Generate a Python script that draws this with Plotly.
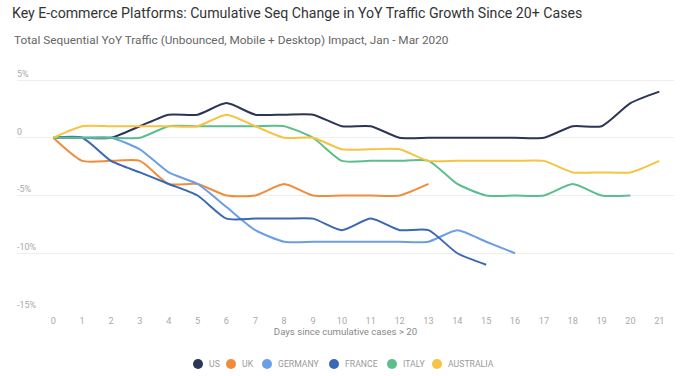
import plotly.graph_objects as go

# ---- data ----
days = list(range(22))
series_names = ["US", "UK", "GERMANY", "FRANCE", "ITALY", "AUSTRALIA"]
us = [0, 0, 0, 1, 2, 2, 3, 2, 2, 2, 1, 1, 0, 0, 0, 0, 0, 0, 1, 1, 3, 4]
uk = [0, -2, -2, -2, -4, -4, -5, -5, -4, -5, -5, -5, -5, -4]
germany = [0, 0, 0, -1, -3, -4, -6, -8, -9, -9, -9, -9, -9, -9, -8, -9, -10]
france = [0, 0, -2, -3, -4, -5, -7, -7, -7, -7, -8, -7, -8, -8, -10, -11]
italy = [0, 0, 0, 0, 1, 1, 1, 1, 1, 0, -2, -2, -2, -2, -4, -5, -5, -5, -4, -5, -5]
australia = [0, 1, 1, 1, 1, 1, 2, 1, 0, 0, -1, -1, -1, -2, -2, -2, -2, -2, -3, -3, -3, -2]
y_tick_vals = [5, 0, -5, -10, -15]
y_tick_text = ["5%", "0", "-5%", "-10%", "-15%"]

# ---- styles ----
colors = ["#2b3556", "#f08c3a", "#6c9ee8", "#3b68b5", "#5bbf8d", "#f6c343"]
legend_centers_px = [198, 231, 267, 334, 392, 437]
FONT = "Roboto"

values = [us, uk, germany, france, italy, australia]

W, H = 700, 376
L, R, T, B = 17, 26, 62, 65
pw, ph = W - L - R, H - T - B

fig = go.Figure()
for name, vals, col in zip(series_names, values, colors):
    fig.add_trace(go.Scatter(
        x=days[:len(vals)], y=vals, name=name, mode="lines",
        line=dict(color=col, width=2, shape="spline", smoothing=0.6),
        showlegend=False, hoverinfo="skip",
    ))

# manual legend (circle + label)
legend_y_px = 364
ly = (H - B - legend_y_px) / ph
for name, col, cx in zip(series_names, colors, legend_centers_px):
    lx = (cx - L) / pw
    fig.add_shape(type="circle", xref="paper", yref="paper",
                  xsizemode="pixel", ysizemode="pixel",
                  xanchor=lx, yanchor=ly, x0=-5, x1=5, y0=-5, y1=5,
                  fillcolor=col, line=dict(width=0))
    fig.add_annotation(text=name, xref="paper", yref="paper",
                       x=(cx + 9 - L) / pw, y=ly, xanchor="left", yanchor="middle",
                       showarrow=False, font=dict(family=FONT, size=8.7, color="#9a9a9a"))

fig.add_annotation(text="Total Sequential YoY Traffic (Unbounced, Mobile + Desktop) Impact, Jan - Mar 2020",
                   xref="paper", yref="paper", x=(12 - L) / pw, y=(H - B - 40) / ph,
                   xanchor="left", yanchor="middle", showarrow=False,
                   font=dict(family=FONT, size=11.8, color="#666666"))

fig.update_layout(
    width=W, height=H,
    margin=dict(l=L, r=R, t=T, b=B),
    paper_bgcolor="white", plot_bgcolor="white",
    title=dict(text="Key E-commerce Platforms: Cumulative Seq Change in YoY Traffic Growth Since 20+ Cases",
               xref="container", yref="container", x=12 / W, y=1 - 13 / H,
               xanchor="left", yanchor="middle",
               font=dict(family=FONT, size=14.15, color="#333333")),
    font=dict(family=FONT),
    xaxis=dict(range=[-1.258, 21.509], tickmode="array", tickvals=days,
               ticktext=[str(d) for d in days], showgrid=False, zeroline=False,
               showline=False, ticks="", ticklabelstandoff=3,
               tickfont=dict(size=9.2, color="#aaaaaa"),
               title=dict(text="Days since cumulative cases > 20", standoff=3,
                          font=dict(size=9.6, color="#888888"))),
    yaxis=dict(range=[-15, 6.56], tickmode="array", tickvals=y_tick_vals,
               ticktext=y_tick_text, ticklabelposition="inside top",
               ticklabelstandoff=-3,
               showgrid=True, gridcolor="#eeeeee", gridwidth=1, zeroline=False,
               showline=False, ticks="", tickfont=dict(size=9, color="#aaaaaa")),
    showlegend=False,
    hovermode=False,
)

fig.write_html("out.html", config={"displayModeBar": False},
               post_script="document.body.style.margin='0';document.body.style.padding='0';")
